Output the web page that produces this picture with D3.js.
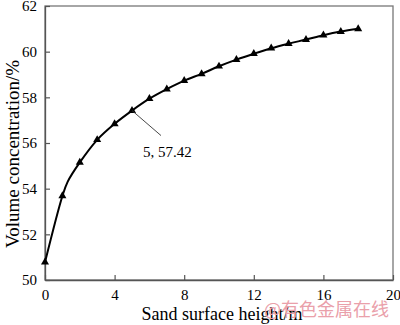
<!DOCTYPE html>
<html>
<head>
<meta charset="utf-8">
<script src="https://cdn.jsdelivr.net/npm/d3@7"></script>
<style>
  body { margin: 0; background: #fff; }
  svg text { font-family: "Liberation Serif", "Times New Roman", "DejaVu Serif", serif; fill: #000; }
</style>
</head>
<body>
<div id="chart"></div>
<script>
// data
const heights = [0, 1, 2, 3, 4, 5, 6, 7, 8, 9, 10, 11, 12, 13, 14, 15, 16, 17, 18];
const concentration = [50.78, 53.68, 55.15, 56.14, 56.84, 57.42, 57.94, 58.36, 58.73, 59.03,
  59.36, 59.65, 59.91, 60.15, 60.35, 60.53, 60.72, 60.88, 61.0];
// extra curve point (no marker) where the line bends between 1 and 2
const bendPoint = { x: 1.3, y: 54.3 };
const xTicks = [0, 4, 8, 12, 16, 20];
const yTicks = [50, 52, 54, 56, 58, 60, 62];
const note = { x: 5, y: 57.42, label: "5, 57.42" };

const width = 400, height = 325;
const margin = { top: 6, right: 7, bottom: 45, left: 45 };
const serif = "'Liberation Serif', 'Times New Roman', serif";

const svg = d3.select("#chart").append("svg")
  .attr("width", width)
  .attr("height", height);

const x = d3.scaleLinear().domain([0, 20]).range([margin.left, width - margin.right]);
const y = d3.scaleLinear().domain([50, 62]).range([height - margin.bottom, margin.top]);

// frame
svg.append("rect")
  .attr("x", x(0)).attr("y", y(62))
  .attr("width", x(20) - x(0)).attr("height", y(50) - y(62))
  .attr("fill", "none").attr("stroke", "#777").attr("stroke-width", 1.3);

// axes with inward ticks
const xAxis = svg.append("g")
  .attr("transform", `translate(0,${y(50)})`)
  .call(d3.axisBottom(x).tickValues(xTicks).tickSizeInner(-5).tickSizeOuter(0).tickPadding(9));
const yAxis = svg.append("g")
  .attr("transform", `translate(${x(0)},0)`)
  .call(d3.axisLeft(y).tickValues(yTicks).tickSizeInner(-5).tickSizeOuter(0).tickPadding(8));

[xAxis, yAxis].forEach(g => {
  g.attr("font-family", null).attr("font-size", null);
  g.select(".domain").attr("stroke", "#555").attr("stroke-width", 1.3);
  g.selectAll(".tick line").attr("stroke", "#555").attr("stroke-width", 1.2);
  g.selectAll(".tick text")
    .style("font-family", serif)
    .style("font-size", "15px")
    .style("fill", "#000");
});

// curve
const pts = heights.map((h, i) => ({ x: h, y: concentration[i] }));
const curvePts = pts.slice(0, 2).concat([bendPoint], pts.slice(2));
const line = d3.line()
  .x(d => x(d.x))
  .y(d => y(d.y))
  .curve(d3.curveCatmullRom.alpha(0.5));

svg.append("path")
  .datum(curvePts)
  .attr("d", line)
  .attr("fill", "none")
  .attr("stroke", "#000")
  .attr("stroke-width", 2);

// triangle markers
svg.append("g")
  .selectAll("path")
  .data(pts)
  .enter().append("path")
  .attr("transform", d => `translate(${x(d.x)},${y(d.y)})`)
  .attr("d", d3.symbol().type(d3.symbolTriangle).size(28))
  .attr("fill", "#000");

// annotation
svg.append("line")
  .attr("x1", x(note.x)).attr("y1", y(note.y))
  .attr("x2", x(note.x) + 29).attr("y2", y(note.y) + 25)
  .attr("stroke", "#333").attr("stroke-width", 0.9);
svg.append("text")
  .attr("x", x(note.x) + 11).attr("y", y(note.y) + 46)
  .style("font-family", serif)
  .style("font-size", "15px")
  .text(note.label);

// axis titles
svg.append("text")
  .attr("x", 222).attr("y", 320)
  .attr("text-anchor", "middle")
  .style("font-family", serif)
  .style("font-size", "18px")
  .text("Sand surface height/m");

svg.append("text")
  .attr("transform", "translate(19,154) rotate(-90)")
  .attr("text-anchor", "middle")
  .style("font-family", serif)
  .style("font-size", "19px")
  .text("Volume concentration/%");

// watermark
svg.append("text")
  .attr("x", 264).attr("y", 316)
  .style("font-family", "'Noto Sans CJK SC', sans-serif")
  .style("font-size", "18px")
  .style("fill", "#eaa0aa")
  .text("@有色金属在线");
</script>
</body>
</html>
